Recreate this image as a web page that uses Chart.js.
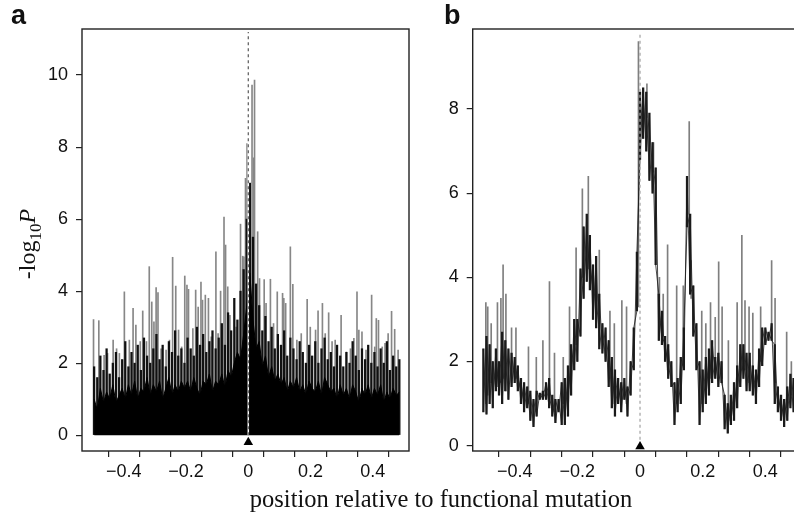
<!DOCTYPE html>
<html>
<head>
<meta charset="utf-8">
<script src="https://cdn.jsdelivr.net/npm/chart.js@4.4.1/dist/chart.umd.min.js"></script>
<style>
html, body { margin: 0; padding: 0; width: 794px; height: 523px; overflow: hidden; background: #fff; }
.panel { position: absolute; top: 0; }
#wrapA { left: 0; }
#wrapB { left: 400px; }
.tag { position: absolute; top: 0px; font: bold 27px 'Liberation Sans', Arial, sans-serif; color: #111; }
#ylab { position: absolute; left: 27px; top: 244px; transform: translate(-50%, -50%) rotate(-90deg);
        font: 24px 'Liberation Serif', serif; white-space: nowrap; color: #111; }
#ylab sub { font-size: 17px; vertical-align: -6px; line-height: 0; }
#xlab { position: absolute; left: 191px; width: 500px; top: 485px; text-align: center;
        font: 24.5px 'Liberation Serif', serif; color: #111; }
</style>
</head>
<body>
<div class="panel" id="wrapA"><canvas id="chartA" width="420" height="523"></canvas></div>
<div class="panel" id="wrapB"><canvas id="chartB" width="420" height="523"></canvas></div>
<div class="tag" style="left:11px">a</div>
<div class="tag" style="left:444px">b</div>
<div id="ylab">-log<sub>10</sub><i>P</i></div>
<div id="xlab">position relative to functional mutation</div>
<script>
// axis ticks
var xTickValues = [-0.5, -0.4, -0.3, -0.2, -0.1, 0, 0.1, 0.2, 0.3, 0.4, 0.5];
var xTickLabels = ['', '\u22120.4', '', '\u22120.2', '', '0', '', '0.2', '', '0.4', ''];
var aYTicks = [0, 2, 4, 6, 8, 10];
var bYTicks = [0, 2, 4, 6, 8];

// functional mutation marker
var mutationPos = 0;
var aDashTop = 11.2;
var bDashTop = 9.8;
var aMarkerY = -0.2;
var bMarkerY = -0.02;

// panel a: dense single-marker scan
var aPos = [
  -0.495, -0.485, -0.475, -0.465, -0.455, -0.445, -0.435, -0.425, -0.415, -0.405,
  -0.395, -0.385, -0.375, -0.365, -0.355, -0.345, -0.335, -0.325, -0.315, -0.305,
  -0.295, -0.285, -0.275, -0.265, -0.255, -0.245, -0.235, -0.225, -0.215, -0.205,
  -0.195, -0.185, -0.175, -0.165, -0.155, -0.145, -0.135, -0.125, -0.115, -0.105,
  -0.095, -0.085, -0.075, -0.065, -0.055, -0.045, -0.035, -0.025, -0.015, -0.005,
  0.005, 0.015, 0.025, 0.035, 0.045, 0.055, 0.065, 0.075, 0.085, 0.095,
  0.105, 0.115, 0.125, 0.135, 0.145, 0.155, 0.165, 0.175, 0.185, 0.195,
  0.205, 0.215, 0.225, 0.235, 0.245, 0.255, 0.265, 0.275, 0.285, 0.295,
  0.305, 0.315, 0.325, 0.335, 0.345, 0.355, 0.365, 0.375, 0.385, 0.395,
  0.405, 0.415, 0.425, 0.435, 0.445, 0.455, 0.465, 0.475, 0.485
];
var aBase = [
  1.0, 0.7, 1.3, 0.9, 1.2, 1.0, 1.4, 0.9, 1.1, 1.3,
  1.0, 1.4, 1.1, 1.5, 1.0, 1.3, 1.2, 1.6, 1.1, 1.4,
  1.2, 1.5, 1.0, 1.3, 1.6, 1.1, 1.4, 1.2, 1.5, 1.3,
  1.5, 1.2, 1.6, 1.3, 1.1, 1.5, 1.4, 1.7, 1.2, 1.5,
  1.4, 1.7, 1.3, 1.8, 1.6, 2.0, 2.3, 2.1, 2.8, 3.6,
  4.5, 3.2, 2.4, 2.6, 1.9, 2.2, 1.6, 1.9, 1.5, 1.7,
  1.4, 1.6, 1.2, 1.5, 1.3, 1.6, 1.2, 1.4, 1.1, 1.5,
  1.3, 1.2, 1.5, 1.1, 1.6, 1.4, 1.2, 1.3, 1.0, 1.4,
  1.1, 1.3, 1.0, 1.4, 1.2, 0.9, 1.3, 1.1, 1.4, 1.0,
  1.3, 1.1, 1.4, 0.9, 1.2, 1.0, 1.3, 1.1, 1.2
];
var aMid = [
  1.9, 1.6, 2.2, 1.8, 2.4, 1.7, 2.0, 2.3, 1.6, 2.1,
  2.6, 1.9, 2.3, 2.0, 2.5, 1.8, 2.7, 2.2, 2.0, 2.4,
  2.8, 2.1, 2.5, 1.9, 2.6, 2.3, 2.9, 2.2, 2.4, 2.0,
  2.7, 2.4, 2.2, 3.0, 2.5, 2.8, 2.3, 2.6, 2.9, 2.4,
  2.7, 3.1, 2.5, 3.4, 2.9, 3.8, 3.2, 4.0, 4.6, 6.0,
  7.0, 5.5, 4.2, 3.6, 2.9, 3.3, 2.6, 3.0, 2.4, 2.8,
  2.5, 2.9, 2.2, 2.7, 2.4, 2.1, 2.6, 2.3, 2.0, 2.5,
  2.2, 2.6, 2.0, 2.4, 2.7, 2.1, 2.3, 1.9, 2.5, 2.2,
  1.9, 2.3, 2.0, 2.6, 2.2, 1.8, 2.4, 2.1, 2.5, 2.0,
  2.3, 1.9, 2.4, 2.0, 2.6, 1.8, 2.2, 1.9, 2.1
];
var aPeakPos = [
  -0.497, -0.480, -0.463, -0.452, -0.434, -0.423, -0.414, -0.398, -0.382, -0.370,
  -0.361, -0.347, -0.339, -0.327, -0.318, -0.310, -0.303, -0.296, -0.290, -0.280,
  -0.264, -0.253, -0.243, -0.233, -0.224, -0.214, -0.204, -0.197, -0.192, -0.178,
  -0.169, -0.161, -0.152, -0.147, -0.138, -0.128, -0.119, -0.104, -0.097, -0.089,
  -0.078, -0.073, -0.066, -0.059, -0.039, -0.025, -0.018, -0.014, -0.009, -0.004,
  0.012, 0.017, 0.020, 0.030, 0.036, 0.051, 0.057, 0.071, 0.081, 0.093,
  0.110, 0.114, 0.120, 0.135, 0.143, 0.156, 0.170, 0.189, 0.199, 0.216,
  0.224, 0.238, 0.247, 0.258, 0.269, 0.279, 0.298, 0.315, 0.328, 0.339,
  0.349, 0.355, 0.365, 0.378, 0.396, 0.406, 0.411, 0.418, 0.430, 0.439,
  0.449, 0.460, 0.470, 0.481
];
var aPeak = [
  3.21, 3.18, 2.22, 2.27, 2.64, 2.40, 2.27, 3.98, 2.64, 3.52,
  3.06, 2.60, 3.45, 2.60, 4.68, 3.70, 3.15, 4.10, 3.96, 2.40,
  2.36, 2.64, 4.94, 4.14, 2.92, 2.45, 4.42, 4.17, 4.05, 2.96,
  4.03, 3.56, 4.25, 3.75, 3.89, 3.80, 2.73, 5.09, 2.82, 4.00,
  6.06, 5.28, 4.12, 3.33, 3.00, 5.86, 4.97, 4.95, 7.13, 8.10,
  9.72, 7.70, 9.86, 5.65, 4.35, 4.32, 3.66, 4.33, 3.10, 3.98,
  3.94, 3.80, 3.66, 5.23, 4.19, 2.64, 2.82, 3.77, 3.00, 2.92,
  3.45, 3.66, 2.82, 3.40, 2.60, 2.64, 3.33, 2.31, 2.40, 2.69,
  3.98, 2.92, 2.87, 2.36, 3.89, 2.45, 3.24, 3.19, 2.45, 2.55,
  2.82, 3.44, 2.94, 2.36
];

// panel b: haplotype-based scan
var bPos = [
  -0.50, -0.49, -0.48, -0.47, -0.46, -0.45, -0.44, -0.43, -0.42, -0.41,
  -0.40, -0.39, -0.38, -0.37, -0.36, -0.35, -0.34, -0.33, -0.32, -0.31,
  -0.30, -0.29, -0.28, -0.27, -0.26, -0.25, -0.24, -0.23, -0.22, -0.21,
  -0.20, -0.19, -0.18, -0.17, -0.16, -0.15, -0.14, -0.13, -0.12, -0.11,
  -0.10, -0.09, -0.08, -0.07, -0.06, -0.05, -0.04, -0.03, -0.02, -0.01,
  0.00, 0.01, 0.02, 0.03, 0.04, 0.05, 0.06, 0.07, 0.08, 0.09,
  0.10, 0.11, 0.12, 0.13, 0.14, 0.15, 0.16, 0.17, 0.18, 0.19,
  0.20, 0.21, 0.22, 0.23, 0.24, 0.25, 0.26, 0.27, 0.28, 0.29,
  0.30, 0.31, 0.32, 0.33, 0.34, 0.35, 0.36, 0.37, 0.38, 0.39,
  0.40, 0.41, 0.42, 0.43, 0.44, 0.45, 0.46, 0.47, 0.48, 0.49
];
var bLo = [
  0.8, 0.75, 1.0, 0.9, 1.3, 1.2, 1.0, 1.3, 1.1, 1.4,
  1.5, 1.3, 1.0, 0.8, 0.9, 0.6, 0.45, 0.7, 1.1, 1.1,
  1.1, 0.9, 0.7, 0.55, 0.8, 0.5, 0.5, 0.7, 1.2, 1.8,
  2.0, 2.6, 3.5, 3.9, 3.7, 3.0, 2.8, 2.3, 2.2, 2.0,
  1.4, 0.9, 0.7, 1.0, 0.8, 1.1, 0.7, 1.2, 1.8, 3.2,
  6.8, 7.3, 7.0, 6.3, 6.0, 4.3, 2.5, 2.4, 2.0, 1.6,
  1.4, 0.5, 0.8, 1.0, 1.8, 5.2, 3.6, 2.6, 1.8, 0.5,
  0.8, 1.0, 1.2, 1.5, 1.6, 1.4, 1.5, 0.4, 0.3, 0.5,
  0.6, 0.9, 1.4, 1.6, 1.3, 1.3, 1.2, 1.0, 1.4, 1.9,
  2.4, 2.5, 2.5, 1.0, 0.8, 0.6, 0.45, 0.6, 0.9, 0.8
];
var bHi = [
  2.3, 2.6, 2.4, 2.0, 2.3, 2.0, 2.7, 2.5, 2.3, 2.2,
  2.1, 1.9, 1.6, 1.5, 1.4, 1.3, 1.1, 1.3, 1.25, 1.3,
  1.5, 1.6, 1.2, 1.1, 1.1, 1.5, 1.6, 1.9, 2.4, 3.0,
  3.0, 4.2, 5.2, 5.5, 5.0, 4.3, 4.5, 3.6, 2.9, 2.8,
  2.5, 2.1, 1.8, 1.6, 1.5, 1.6, 1.4, 2.0, 2.8, 4.6,
  8.4, 8.5, 8.4, 7.9, 7.2, 6.6, 3.6, 3.2, 2.6, 2.4,
  2.0, 1.5, 1.6, 2.1, 2.8, 6.4, 5.5, 3.8, 2.9, 2.0,
  1.8, 2.1, 2.3, 2.5, 2.1, 2.2, 2.0, 1.2, 1.0, 1.2,
  1.5, 1.9, 2.4, 2.4, 2.2, 2.2, 1.9, 1.8, 2.3, 2.8,
  2.8, 2.7, 2.9, 2.4, 1.4, 1.2, 1.1, 1.4, 1.7, 1.6
];
var bSpikePos = [
  -0.492, -0.486, -0.475, -0.455, -0.444, -0.437, -0.428, -0.410, -0.396, -0.356,
  -0.331, -0.310, -0.289, -0.273, -0.245, -0.225, -0.204, -0.184, -0.165, -0.140,
  -0.130, -0.096, -0.082, -0.058, -0.043, -0.005, 0.022, 0.043, 0.062, 0.074,
  0.088, 0.117, 0.138, 0.157, 0.163, 0.197, 0.210, 0.225, 0.240, 0.251,
  0.262, 0.282, 0.310, 0.325, 0.335, 0.348, 0.360, 0.385, 0.420, 0.431,
  0.468, 0.483
];
var bSpikeLo = [
  1.0, 1.2, 1.5, 1.4, 1.5, 1.6, 1.3, 1.5, 1.6, 1.0,
  0.8, 1.2, 1.2, 0.8, 1.0, 1.6, 2.4, 4.0, 4.2, 3.0,
  2.9, 1.6, 1.0, 1.1, 1.0, 3.3, 7.8, 6.5, 3.0, 2.6,
  1.8, 1.0, 1.9, 5.5, 3.5, 1.0, 1.3, 1.6, 1.7, 1.6,
  1.6, 0.6, 1.2, 1.8, 1.8, 1.5, 1.4, 2.0, 2.6, 1.5,
  0.9, 1.2
];
var bSpikeHi = [
  3.4, 3.3, 2.9, 3.4, 3.5, 4.3, 3.6, 2.8, 2.8, 2.35,
  2.1, 2.5, 3.9, 2.2, 2.1, 3.3, 4.7, 6.1, 6.4, 4.5,
  4.65, 3.2, 2.9, 3.45, 3.3, 9.6, 8.6, 7.2, 4.0, 3.6,
  4.77, 3.8, 3.8, 7.7, 4.4, 3.2, 2.9, 3.4, 3.05, 4.37,
  3.3, 2.5, 3.4, 5.0, 3.45, 3.3, 3.15, 3.3, 4.4, 3.5,
  2.7, 2.0
];

var tickFont = { family: "'Liberation Sans', Arial, sans-serif", size: 18 };

Chart.defaults.animation = false;
Chart.defaults.events = [];
Chart.defaults.plugins.legend.display = false;
Chart.defaults.plugins.tooltip.enabled = false;

// box round the plot area
var framePlugin = {
  id: 'frame',
  afterDatasetsDraw: function (chart) {
    var a = chart.chartArea;
    var ctx = chart.ctx;
    ctx.save();
    ctx.strokeStyle = '#222';
    ctx.lineWidth = 1.4;
    ctx.strokeRect(a.left, a.top, a.right - a.left, a.bottom - a.top);
    ctx.restore();
  }
};

function xScale() {
  return {
    type: 'linear',
    min: -0.534,
    max: 0.516,
    offset: false,
    afterBuildTicks: function (s) { s.ticks = xTickValues.map(function (v) { return { value: v }; }); },
    afterFit: function (s) { s.height = 72; },
    grid: { drawOnChartArea: false, drawTicks: true, tickLength: 6, color: '#222', lineWidth: 1.2 },
    border: { display: false },
    ticks: {
      autoSkip: false, maxRotation: 0, padding: 4, color: '#111', font: tickFont,
      callback: function (v, i) { return xTickLabels[i]; }
    }
  };
}

function yScale(min, max, tickList, width) {
  return {
    min: min,
    max: max,
    afterBuildTicks: function (s) { s.ticks = tickList.map(function (v) { return { value: v }; }); },
    afterFit: function (s) { s.width = width; },
    grid: { drawOnChartArea: false, drawTicks: true, tickLength: 6, color: '#222', lineWidth: 1.2 },
    border: { display: false },
    ticks: { padding: 8, color: '#111', font: tickFont }
  };
}

function pts(xs, ys) {
  return xs.map(function (x, i) { return { x: x, y: ys[i] }; });
}

function markerSets(dashTop, markerY, dashColor, whiteBase) {
  var line = [{ x: mutationPos, y: 0 }, { x: mutationPos, y: dashTop }];
  var sets = [];
  sets.push({
    type: 'line', data: [{ x: mutationPos, y: markerY }], showLine: false,
    pointStyle: 'triangle', pointRadius: 5.5, pointBackgroundColor: '#000',
    pointBorderWidth: 0, clip: false, order: 0
  });
  sets.push({
    type: 'line', data: line, borderColor: dashColor, borderWidth: 1.3,
    borderDash: [3, 3], pointRadius: 0, order: 1
  });
  if (whiteBase) {
    sets.push({
      type: 'line', data: line, borderColor: '#fff', borderWidth: 1.5,
      pointRadius: 0, order: 2
    });
  }
  return sets;
}

// panel a
new Chart(document.getElementById('chartA'), {
  type: 'bar',
  data: {
    datasets: markerSets(aDashTop, aMarkerY, '#666', true).concat([
      {
        type: 'line', data: pts(aPos, aBase), fill: 'origin',
        backgroundColor: '#000', borderColor: '#000', borderWidth: 1,
        pointRadius: 0, tension: 0, order: 3
      },
      {
        data: pts(aPos, aMid), backgroundColor: '#111',
        barThickness: 1.6, grouped: false, order: 4
      },
      {
        data: pts(aPeakPos, aPeak), backgroundColor: '#878787',
        barThickness: 1, grouped: false, order: 5
      }
    ])
  },
  options: {
    responsive: false,
    layout: { padding: { left: 0, right: 11, top: 29, bottom: 0 } },
    scales: {
      x: xScale(),
      y: yScale(-0.44, 11.28, aYTicks, 82)
    }
  },
  plugins: [framePlugin]
});

// panel b
var bZigA = bPos.map(function (x, i) { return { x: x, y: i % 2 ? bLo[i] : bHi[i] }; });
var bZigB = bPos.map(function (x, i) { return { x: x, y: i % 2 ? bHi[i] : bLo[i] }; });
var bCore = bPos.map(function (x, i) { return { x: x, y: [bLo[i], bHi[i]] }; });
var bSpikes = bSpikePos.map(function (x, i) { return { x: x, y: [bSpikeLo[i], bSpikeHi[i]] }; });

new Chart(document.getElementById('chartB'), {
  type: 'bar',
  data: {
    datasets: markerSets(bDashTop, bMarkerY, '#a8a8a8', false).concat([
      {
        type: 'line', data: bZigA, borderColor: '#1a1a1a', borderWidth: 0.8,
        pointRadius: 0, tension: 0, order: 3
      },
      {
        type: 'line', data: bZigB, borderColor: '#1a1a1a', borderWidth: 0.8,
        pointRadius: 0, tension: 0, order: 3
      },
      {
        data: bCore, backgroundColor: '#1a1a1a',
        barThickness: 1.6, grouped: false, order: 4
      },
      {
        data: bSpikes, backgroundColor: '#7f7f7f',
        barThickness: 1, grouped: false, order: 5
      }
    ])
  },
  options: {
    responsive: false,
    layout: { padding: { left: 0, right: 18.3, top: 29, bottom: 0 } },
    scales: {
      x: xScale(),
      y: yScale(-0.126, 9.9, bYTicks, 72.7)
    }
  },
  plugins: [framePlugin]
});
</script>
</body>
</html>
